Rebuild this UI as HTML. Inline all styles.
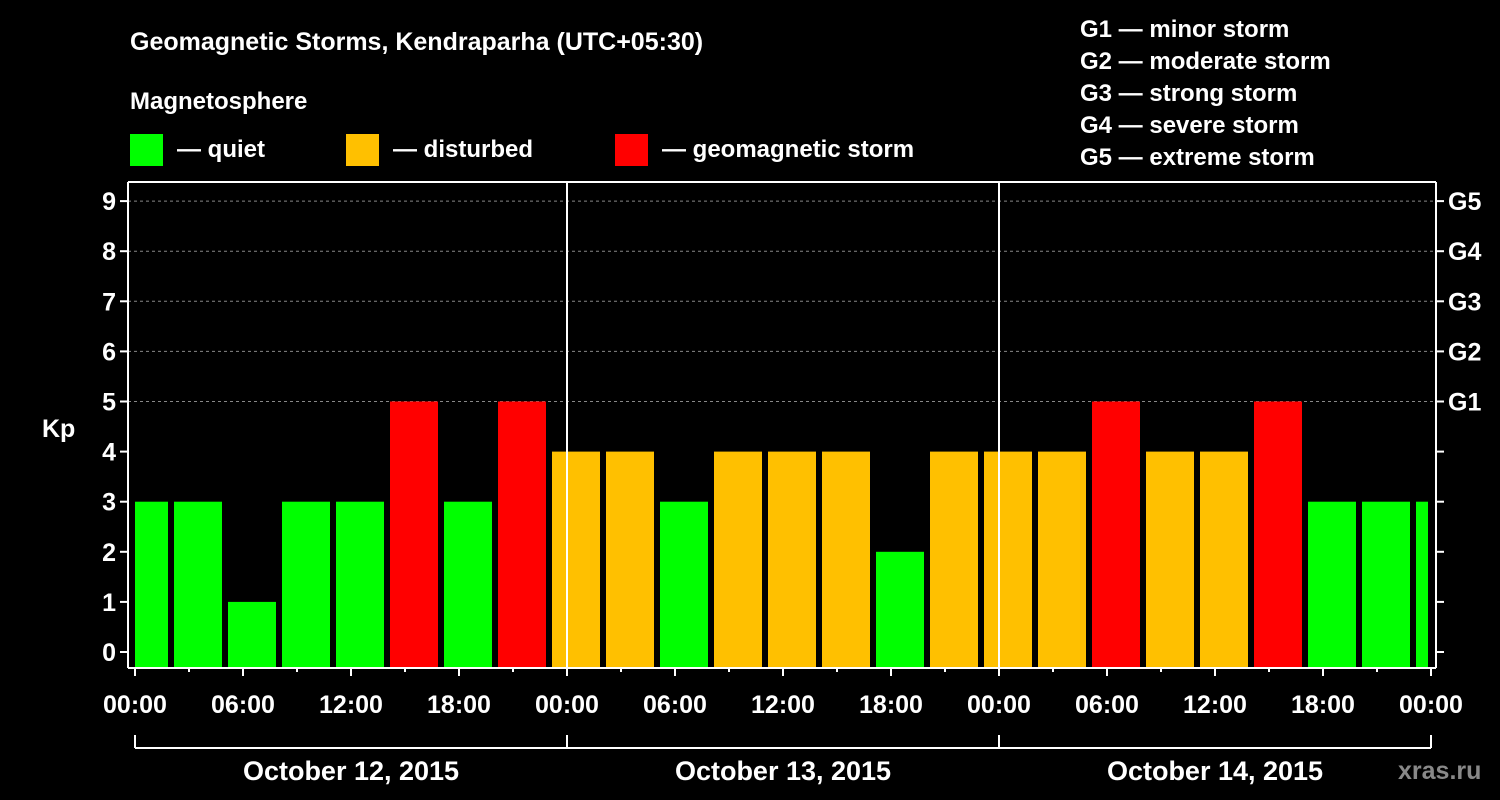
<!DOCTYPE html>
<html><head><meta charset="utf-8"><style>
body{margin:0;background:#000;}
svg{display:block;font-family:"Liberation Sans",Arial,sans-serif;font-weight:bold;}
</style></head><body>
<svg id="c" width="1500" height="800" viewBox="0 0 1500 800">
<rect width="1500" height="800" fill="#000"/>
<text x="130" y="50" fill="#fff" font-size="25">Geomagnetic Storms, Kendraparha (UTC+05:30)</text>
<text x="130" y="109" fill="#fff" font-size="24">Magnetosphere</text>
<g><rect x="130" y="134" width="33" height="32" fill="#00ff00"/><text x="177" y="157" fill="#fff" font-size="24">— quiet</text></g>
<g><rect x="346" y="134" width="33" height="32" fill="#ffc000"/><text x="393" y="157" fill="#fff" font-size="24">— disturbed</text></g>
<g><rect x="615" y="134" width="33" height="32" fill="#ff0000"/><text x="662" y="157" fill="#fff" font-size="24">— geomagnetic storm</text></g>
<g fill="#fff" font-size="24">
<text x="1080" y="37">G1 — minor storm</text>
<text x="1080" y="69">G2 — moderate storm</text>
<text x="1080" y="101">G3 — strong storm</text>
<text x="1080" y="133">G4 — severe storm</text>
<text x="1080" y="165">G5 — extreme storm</text>
</g>
<text x="42" y="437" fill="#fff" font-size="25">Kp</text>
<text x="1398" y="779" fill="#888" font-size="25">xras.ru</text>
<g id="grid"></g><g id="bars"></g><g id="axes"></g>
</svg>
<script>
const kpValues=[3,3,1,3,3,5,3,5,4,4,3,4,4,4,2,4,4,4,5,4,4,5,3,3,3];
const yTicks=[0,1,2,3,4,5,6,7,8,9];
const gLabels=["G1","G2","G3","G4","G5"];
const xTickLabels=["00:00","06:00","12:00","18:00","00:00","06:00","12:00","18:00","00:00","06:00","12:00","18:00","00:00"];
const dayLabels=["October 12, 2015","October 13, 2015","October 14, 2015"];
const NS="http://www.w3.org/2000/svg";
const X0=135,PXH=18,Y0=652,PXU=50.1,BOT=668,L=128,R=1436,TOP=182,HMAX=72;
const xs=h=>X0+h*PXH, ys=v=>Y0-v*PXU;
function mk(p,t,a){const e=document.createElementNS(NS,t);for(const k in a)e.setAttribute(k,a[k]);document.getElementById(p).appendChild(e);return e;}
// grid
for(let v=5;v<=9;v++){const e=mk("grid","line",{x1:L,x2:R,y1:ys(v),y2:ys(v),stroke:"#888","stroke-dasharray":"3,3","stroke-width":1});

}
// bars
kpValues.forEach((v,k)=>{let h0=-1+3*k,h1=h0+3;let x1=Math.max(xs(h0)+3,X0),x2=Math.min(xs(h1)-3,xs(HMAX)-3);
const col=v>=5?"#ff0000":v>=4?"#ffc000":"#00ff00";
const e=mk("bars","rect",{x:x1,y:ys(v),width:x2-x1,height:BOT-ys(v),fill:col});

});
// axes frame
const A={stroke:"#fff","stroke-width":2};
mk("axes","line",Object.assign({x1:L,x2:L,y1:TOP,y2:BOT},A));
mk("axes","line",Object.assign({x1:R,x2:R,y1:TOP,y2:BOT},A));
mk("axes","line",Object.assign({x1:L,x2:R,y1:TOP,y2:TOP},A));
mk("axes","line",Object.assign({x1:L,x2:R,y1:BOT,y2:BOT},A));
for(let d=1;d<3;d++){const e=mk("axes","line",Object.assign({x1:xs(24*d),x2:xs(24*d),y1:TOP,y2:BOT},A));

}
yTicks.forEach(v=>{mk("axes","line",Object.assign({x1:L-8,x2:L,y1:ys(v),y2:ys(v)},A));
mk("axes","line",Object.assign({x1:R,x2:R+8,y1:ys(v),y2:ys(v)},A));
const t=mk("axes","text",{x:L-12,y:ys(v)+9,fill:"#fff","font-size":25,"text-anchor":"end"});t.textContent=v;

});
gLabels.forEach((g,i)=>{const t=mk("axes","text",{x:R+12,y:ys(5+i)+9,fill:"#fff","font-size":25});t.textContent=g;

});
xTickLabels.forEach((s,i)=>{const x=xs(6*i);mk("axes","line",Object.assign({x1:x,x2:x,y1:BOT,y2:BOT+8},A));
const t=mk("axes","text",{x:x,y:713,fill:"#fff","font-size":25,"text-anchor":"middle"});t.textContent=s;

});
for(let h=0;h<=HMAX;h+=3){mk("axes","line",Object.assign({x1:xs(h),x2:xs(h),y1:BOT,y2:BOT+4},A));}
mk("axes","line",Object.assign({x1:xs(0),x2:xs(HMAX),y1:748,y2:748},A));
for(let d=0;d<=3;d++)mk("axes","line",Object.assign({x1:xs(24*d),x2:xs(24*d),y1:735,y2:748},A));
dayLabels.forEach((s,i)=>{const t=mk("axes","text",{x:xs(24*i+12),y:780,fill:"#fff","font-size":27,"text-anchor":"middle"});t.textContent=s;

});
</script>
</body></html>
